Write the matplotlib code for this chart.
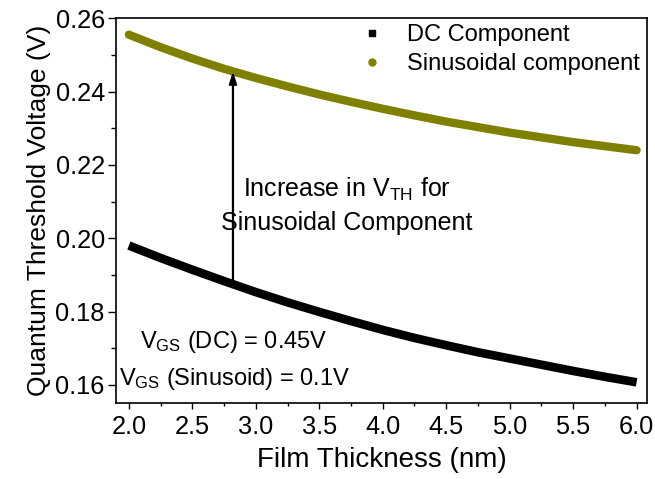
import numpy as np
import matplotlib
matplotlib.use("Agg")
import matplotlib.pyplot as plt
from matplotlib.lines import Line2D
from matplotlib.ticker import MultipleLocator, FormatStrFormatter

plt.rcParams['font.family'] = ['Liberation Sans', 'DejaVu Sans']
plt.rcParams['mathtext.fontset'] = 'custom'
plt.rcParams['mathtext.rm'] = 'Liberation Sans'
plt.rcParams['mathtext.it'] = 'Liberation Sans:italic'

# Film thickness (nm)
thickness = [2.00, 2.25, 2.50, 2.75, 3.00, 3.25, 3.50, 3.75, 4.00,
             4.25, 4.50, 4.75, 5.00, 5.25, 5.50, 5.75, 6.00]
# Quantum threshold voltage (V), DC component
vth_dc = [0.1980, 0.1946, 0.1914, 0.1883, 0.1853, 0.1825, 0.1799, 0.1774, 0.1750,
          0.1728, 0.1708, 0.1689, 0.1672, 0.1655, 0.1638, 0.1622, 0.1607]
# Quantum threshold voltage (V), sinusoidal component
vth_sin = [0.2555, 0.2521, 0.2490, 0.2462, 0.2437, 0.2414, 0.2392, 0.2372, 0.2353,
           0.2335, 0.2318, 0.2303, 0.2288, 0.2275, 0.2262, 0.2251, 0.2240]

x_ticks = [2.0, 2.5, 3.0, 3.5, 4.0, 4.5, 5.0, 5.5, 6.0]
y_ticks = [0.16, 0.18, 0.20, 0.22, 0.24, 0.26]

olive = '#808000'

fig = plt.figure(figsize=(6.55, 4.79), dpi=100)
ax = fig.add_axes([0.177, 0.159, 0.811, 0.803])

ax.plot(thickness, vth_dc, color='black', lw=6.2, solid_capstyle='butt')
ax.plot(thickness, vth_sin, color=olive, lw=6.0, solid_capstyle='round')

# arrow marking the shift between the two components
arrow_x = 2.82
y0 = np.interp(arrow_x, thickness, vth_dc)
y1 = np.interp(arrow_x, thickness, vth_sin)
ax.annotate('', xy=(arrow_x, y1), xytext=(arrow_x, y0),
            arrowprops=dict(arrowstyle='-|>,head_length=0.7,head_width=0.22',
                            color='black', lw=1.6, shrinkA=0, shrinkB=0))

ax.text(3.717, 0.2089, 'Increase in $\\mathregular{V_{TH}}$ for\nSinusoidal Component',
        ha='center', va='center', fontsize=18, linespacing=1.4)
ax.text(2.83, 0.1666, '$\\mathregular{V_{GS}}$ (DC) = 0.45V\n$\\mathregular{V_{GS}}$ (Sinusoid) = 0.1V',
        ha='center', va='center', fontsize=17, linespacing=1.6)

handles = [Line2D([], [], ls='none', marker='s', ms=4.5, color='black'),
           Line2D([], [], ls='none', marker='o', ms=5, color=olive)]
ax.legend(handles, ['DC Component', 'Sinusoidal component'], loc='upper right',
          bbox_to_anchor=(1.027, 1.04), frameon=False, fontsize=17,
          handlelength=1.0, handletextpad=1.0, labelspacing=0.3)

ax.set_xlim(1.898, 6.083)
ax.set_ylim(0.1551, 0.2598)
ax.set_xticks(x_ticks)
ax.set_yticks(y_ticks)
ax.xaxis.set_minor_locator(MultipleLocator(0.25))
ax.yaxis.set_minor_locator(MultipleLocator(0.01))
ax.xaxis.set_major_formatter(FormatStrFormatter('%.1f'))
ax.yaxis.set_major_formatter(FormatStrFormatter('%.2f'))
ax.tick_params(axis='x', which='major', direction='out', length=4.2, width=1.0,
               labelsize=18.3, pad=4.5)
ax.tick_params(axis='x', which='minor', direction='out', length=2.2, width=1.0)
ax.tick_params(axis='y', which='major', direction='out', length=6, width=1.0,
               labelsize=18.3, pad=2)
ax.tick_params(axis='y', which='minor', direction='out', length=3.6, width=1.0)
for s in ax.spines.values():
    s.set_linewidth(1.2)

ax.set_xlabel('Film Thickness (nm)', fontsize=20, labelpad=6)
ax.set_ylabel('Quantum Threshold Voltage (V)', fontsize=19, labelpad=3)

fig.savefig('out.png', dpi=100)
